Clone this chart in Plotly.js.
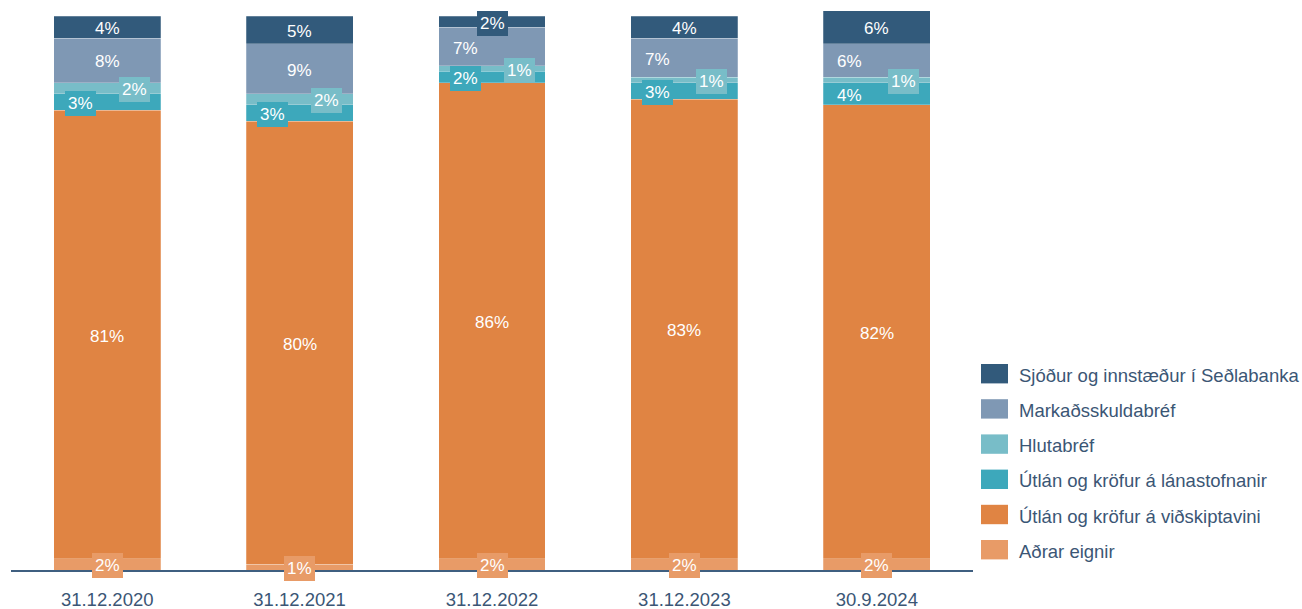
<!DOCTYPE html>
<html>
<head>
<meta charset="utf-8">
<script src="https://cdn.plot.ly/plotly-3.0.1.min.js"></script>
<style>html,body{margin:0;padding:0;background:#fff;}#chart{width:1302px;height:609px;}</style>
</head>
<body>
<div id="chart"></div>
<script>
// ---- data ----
const categories = ["31.12.2020", "31.12.2021", "31.12.2022", "31.12.2023", "30.9.2024"];
const sjodur     = [4, 5, 2, 4, 6];      // Sjóður og innstæður í Seðlabanka
const markadsbref = [8, 9, 7, 7, 6];     // Markaðsskuldabréf
const hlutabref  = [2, 2, 1, 1, 1];      // Hlutabréf
const utlanLana  = [3, 3, 2, 3, 4];      // Útlán og kröfur á lánastofnanir
const utlanVid   = [81, 80, 86, 83, 82]; // Útlán og kröfur á viðskiptavini
const adrar      = [2, 1, 2, 2, 2];      // Aðrar eignir

// series bottom -> top
const series = [
  {name: "Aðrar eignir", values: adrar, color: "#e89b67"},
  {name: "Útlán og kröfur á viðskiptavini", values: utlanVid, color: "#e08443"},
  {name: "Útlán og kröfur á lánastofnanir", values: utlanLana, color: "#3da8bb"},
  {name: "Hlutabréf", values: hlutabref, color: "#78bdc8"},
  {name: "Markaðsskuldabréf", values: markadsbref, color: "#7f98b4"},
  {name: "Sjóður og innstæður í Seðlabanka", values: sjodur, color: "#325a7b"}
];
// horizontal label offsets (style)
function labelShift(name, v) {
  if (name === "Hlutabréf") return 27;
  if (name === "Útlán og kröfur á lánastofnanir") return -27;
  if (name === "Markaðsskuldabréf" && v < 8) return -27;
  return 0;
}

const FONT = "'Liberation Sans', Arial, sans-serif";
const TXT = "#3b5675";

const traces = series.map(s => ({
  type: "bar",
  name: s.name,
  x: categories,
  y: s.values,
  marker: {color: s.color, line: {color: "rgba(255,255,255,0.4)", width: 0.6}},
  hoverinfo: "x+y+name",
  showlegend: false
}));

const annotations = [];
const base = categories.map(() => 0);
series.forEach(s => {
  s.values.forEach((v, j) => {
    annotations.push({
      x: categories[j], y: base[j] + v / 2, xref: "x", yref: "y",
      text: v + "%", showarrow: false,
      xshift: labelShift(s.name, v), yshift: -1.5,
      font: {family: FONT, size: 17, color: "#ffffff"},
      bgcolor: v < 4 ? s.color : "rgba(0,0,0,0)", borderpad: 3, borderwidth: 0,
      xanchor: "center", yanchor: "middle"
    });
    base[j] += v;
  });
});

// custom legend (top -> bottom), in paper coords
const L = 11, R = 973, T = 5, B = 570;
const px2x = p => (p - L) / (R - L);
const py2y = p => (B - p) / (B - T);
const legendItems = series.slice().reverse();
const shapes = [];
legendItems.forEach((s, i) => {
  const cy = 373.7 + i * 35.2;
  shapes.push({
    type: "rect", xref: "paper", yref: "paper",
    x0: px2x(981), x1: px2x(1008), y0: py2y(cy + 9.7), y1: py2y(cy - 9.7),
    fillcolor: s.color, line: {width: 0}
  });
  annotations.push({
    xref: "paper", yref: "paper", x: px2x(1017), y: py2y(cy + 1.5),
    xanchor: "left", yanchor: "middle", showarrow: false,
    text: s.name, font: {family: FONT, size: 18.5, color: TXT}
  });
});

const layout = {
  width: 1302, height: 609,
  margin: {l: L, r: 1302 - R, t: T, b: 609 - B, pad: 0},
  barmode: "stack",
  bargap: 0.444,
  paper_bgcolor: "#ffffff",
  plot_bgcolor: "#ffffff",
  font: {family: FONT, size: 18, color: TXT},
  showlegend: false,
  xaxis: {
    type: "category",
    showline: true, linecolor: "#3f5f80", linewidth: 2,
    showgrid: false, zeroline: false, ticks: "",
    ticklabelstandoff: 12,
    tickfont: {family: FONT, size: 18.5, color: TXT},
    fixedrange: true
  },
  yaxis: {
    range: [0, 102], showgrid: false, zeroline: false,
    showticklabels: false, showline: false, ticks: "", fixedrange: true
  },
  annotations: annotations,
  shapes: shapes
};

Plotly.newPlot("chart", traces, layout, {displayModeBar: false, staticPlot: true});
</script>
</body>
</html>
